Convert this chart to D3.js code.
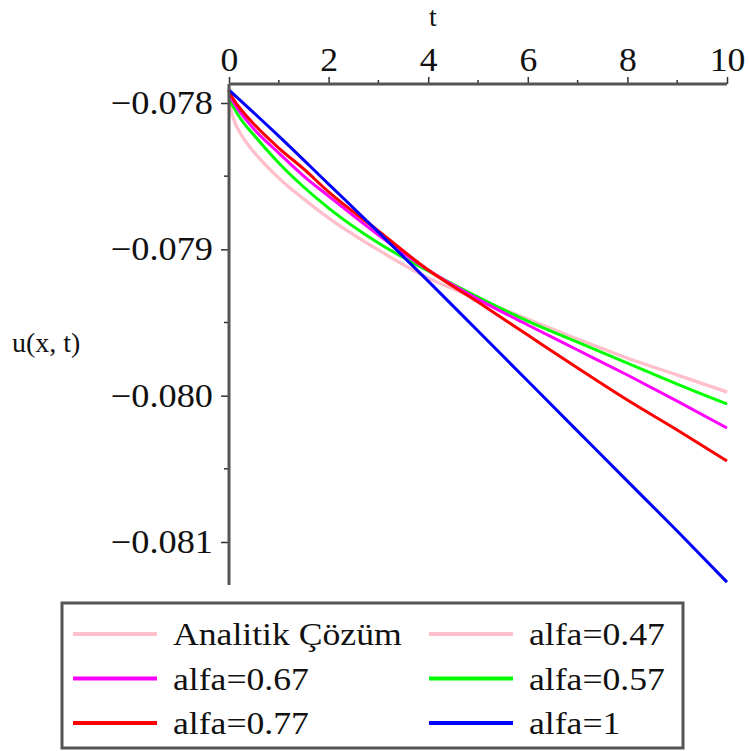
<!DOCTYPE html>
<html>
<head>
<meta charset="utf-8">
<script src="https://cdn.jsdelivr.net/npm/d3@7"></script>
<style>
  body { margin: 0; background: #fff; }
  svg text { font-family: "Liberation Serif", "Times New Roman", serif; fill: #111; }
</style>
</head>
<body>
<div id="chart"></div>
<script>
// t values for the fractional curves
var tVals = [0, 0.03, 0.1, 0.25, 0.5, 1, 1.5, 2, 3, 4, 5, 6, 7, 8, 9, 10];
var tBlue = [0, 1, 2, 3, 4, 5, 6, 7, 8, 9, 10];

var analitik = [-0.077911, -0.078027, -0.078116, -0.078219, -0.078335, -0.078513, -0.078656, -0.078786, -0.079005, -0.079196, -0.079340, -0.079477, -0.079613, -0.079743, -0.079859, -0.079975];
var alfa047 = [-0.077911, -0.078027, -0.078116, -0.078219, -0.078335, -0.078513, -0.078656, -0.078786, -0.079005, -0.079196, -0.079340, -0.079477, -0.079613, -0.079743, -0.079859, -0.079975];
var alfa057 = [-0.077911, -0.077979, -0.078034, -0.078116, -0.078219, -0.078410, -0.078574, -0.078718, -0.078957, -0.079148, -0.079326, -0.079490, -0.079634, -0.079777, -0.079921, -0.080057];
var alfa067 = [-0.077911, -0.077952, -0.078000, -0.078075, -0.078178, -0.078342, -0.078499, -0.078636, -0.078902, -0.079141, -0.079340, -0.079517, -0.079688, -0.079859, -0.080037, -0.080221];
var alfa077 = [-0.077911, -0.077938, -0.077979, -0.078048, -0.078144, -0.078308, -0.078451, -0.078608, -0.078875, -0.079141, -0.079360, -0.079586, -0.079811, -0.080030, -0.080235, -0.080447];
var alfa1 = [-0.077911, -0.078226, -0.078554, -0.078882, -0.079217, -0.079558, -0.079900, -0.080242, -0.080584, -0.080925, -0.081274];

var xTicks = [0, 2, 4, 6, 8, 10];
var xMinor = [1, 3, 5, 7, 9];
var yTicks = [-0.078, -0.079, -0.080, -0.081];
var yMinor = [-0.0785, -0.0795, -0.0805];

var series = [
    {name: "Analitik Çözüm", t: tVals, u: analitik, color: "#ffc0cb"},
    {name: "alfa=0.47", t: tVals, u: alfa047, color: "#ffc0cb"},
    {name: "alfa=0.57", t: tVals, u: alfa057, color: "#00ff00"},
    {name: "alfa=0.67", t: tVals, u: alfa067, color: "#ff00ff"},
    {name: "alfa=0.77", t: tVals, u: alfa077, color: "#ff0000"},
    {name: "alfa=1", t: tBlue, u: alfa1, color: "#0000ff"}
];
// legend order: column by column as in the picture
var legendOrder = ["Analitik Çözüm", "alfa=0.67", "alfa=0.77", "alfa=0.47", "alfa=0.57", "alfa=1"];

var width = 749, height = 751;
var x0 = 229, x1 = 727, yTop = 84, yBot = 585;

var x = d3.scaleLinear().domain([0, 10]).range([x0, x1]);
var y = d3.scaleLinear().domain([-0.078, -0.081]).range([103, 542]);

var svg = d3.select("#chart")
    .append("svg")
    .attr("width", width)
    .attr("height", height);

// stretch a text a bit sideways, the original font is wider
function widen(sel, k) {
    sel.each(function() {
        var w = this.getComputedTextLength();
        d3.select(this).attr("textLength", w * k).attr("lengthAdjust", "spacingAndGlyphs");
    });
}

var line = d3.line()
    .x(function(d) { return x(d[0]); })
    .y(function(d) { return y(d[1]); })
    .curve(d3.curveMonotoneX);

svg.selectAll(".curve")
    .data(series)
    .enter()
    .append("path")
    .attr("class", "curve")
    .attr("fill", "none")
    .attr("stroke", function(d) { return d.color; })
    .attr("stroke-width", 3)
    .attr("d", function(d) {
        return line(d.t.map(function(t, i) { return [t, d.u[i]]; }));
    });

// x axis on top
var xAxis = svg.append("g")
    .attr("transform", "translate(0," + yTop + ")")
    .call(d3.axisTop(x).tickValues(xTicks).tickSize(7).tickPadding(6).tickFormat(d3.format("d")));
xAxis.select(".domain").remove();
xAxis.selectAll("line").attr("stroke", "#333").attr("stroke-width", 1.5);
xAxis.selectAll("text").attr("font-size", 33).attr("fill", "#111").call(widen, 1.08);

svg.selectAll(".xminor")
    .data(xMinor)
    .enter()
    .append("line")
    .attr("x1", function(d) { return x(d); })
    .attr("x2", function(d) { return x(d); })
    .attr("y1", yTop)
    .attr("y2", yTop - 4)
    .attr("stroke", "#333")
    .attr("stroke-width", 1.5);

// y axis
var yAxis = svg.append("g")
    .attr("transform", "translate(" + x0 + ",0)")
    .call(d3.axisLeft(y).tickValues(yTicks).tickSize(8).tickPadding(8)
        .tickFormat(function(d) { return "\u2212" + Math.abs(d).toFixed(3); }));
yAxis.select(".domain").remove();
yAxis.selectAll("line").attr("stroke", "#333").attr("stroke-width", 1.5);
yAxis.selectAll("text").attr("font-size", 33).attr("fill", "#111").call(widen, 1.1);

svg.selectAll(".yminor")
    .data(yMinor)
    .enter()
    .append("line")
    .attr("x1", x0)
    .attr("x2", x0 - 5)
    .attr("y1", function(d) { return y(d); })
    .attr("y2", function(d) { return y(d); })
    .attr("stroke", "#333")
    .attr("stroke-width", 1.5);

// axis lines
svg.append("line")
    .attr("x1", x0).attr("x2", x1)
    .attr("y1", yTop).attr("y2", yTop)
    .attr("stroke", "#555").attr("stroke-width", 3);
svg.append("line")
    .attr("x1", x0).attr("x2", x0)
    .attr("y1", yTop).attr("y2", yBot)
    .attr("stroke", "#555").attr("stroke-width", 3);

// axis titles
svg.append("text")
    .attr("x", 433).attr("y", 26)
    .attr("text-anchor", "middle")
    .attr("font-size", 28)
    .text("t");
svg.append("text")
    .attr("x", 12).attr("y", 352)
    .attr("font-size", 28)
    .text("u(x, t)");

// legend
svg.append("rect")
    .attr("x", 62).attr("y", 603)
    .attr("width", 621).attr("height", 145)
    .attr("fill", "none")
    .attr("stroke", "#555")
    .attr("stroke-width", 3);

var legend = svg.selectAll(".legend")
    .data(legendOrder.map(function(n) {
        return series.filter(function(s) { return s.name === n; })[0];
    }))
    .enter()
    .append("g")
    .attr("class", "legend")
    .attr("transform", function(d, i) {
        var col = Math.floor(i / 3), row = i % 3;
        return "translate(" + (col === 0 ? 73 : 429) + "," + (634 + row * 44.5) + ")";
    });

legend.append("line")
    .attr("x1", 0).attr("x2", 84)
    .attr("y1", 0).attr("y2", 0)
    .attr("stroke", function(d) { return d.color; })
    .attr("stroke-width", 4);

legend.append("text")
    .attr("x", 100)
    .attr("y", 11)
    .attr("font-size", 31)
    .text(function(d) { return d.name; })
    .call(widen, 1.15);
</script>
</body>
</html>
